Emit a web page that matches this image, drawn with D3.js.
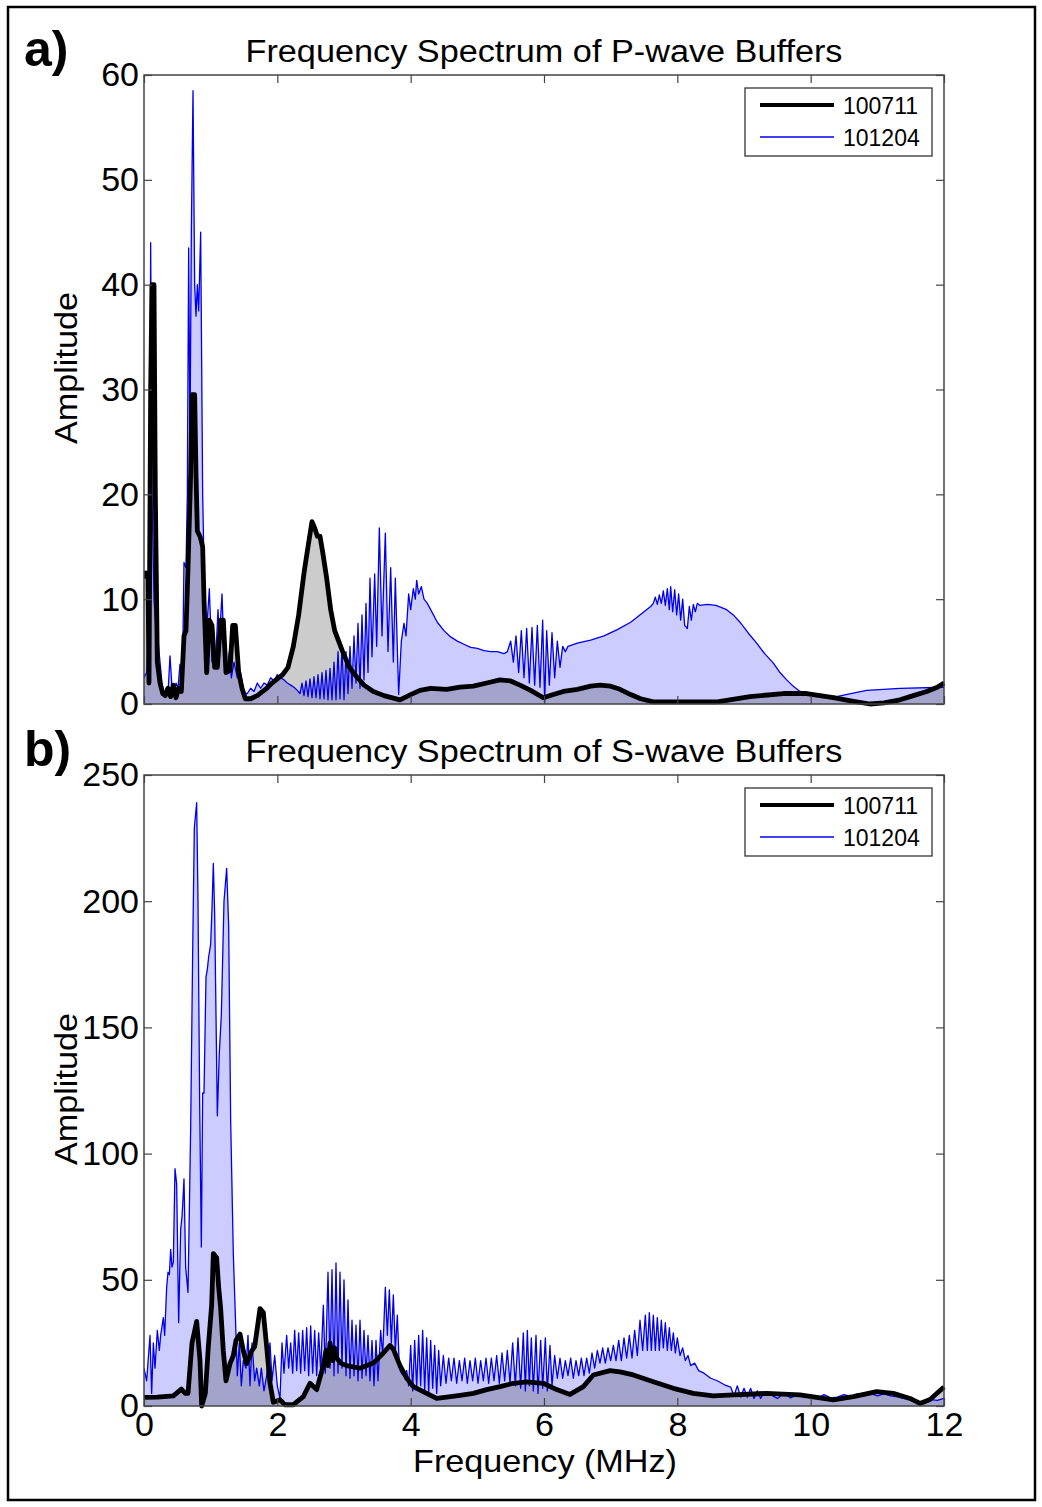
<!DOCTYPE html>
<html><head><meta charset="utf-8">
<script src="https://cdn.jsdelivr.net/npm/d3@7"></script>
<style>body{margin:0;background:#fff} text{font-family:"Liberation Sans",Arial,sans-serif;fill:#000}</style>
</head><body><svg id="c" width="1042" height="1507"></svg>
<script>
const xTicks=[0,2,4,6,8,10,12];
const pTicks=[0,10,20,30,40,50,60];
const sTicks=[0,50,100,150,200,250];
const seriesNames=["100711","101204"];
const titles=["Frequency Spectrum of P-wave Buffers","Frequency Spectrum of S-wave Buffers"];

// P-wave, 100711 (black)
const pBlack=[[0,12],[0.03,12.5],[0.06,12],[0.075,2],[0.1,30],[0.12,40],[0.15,40],[0.17,20],[0.2,4],[0.24,2],[0.28,1],[0.32,0.8],[0.36,1.5],[0.4,0.7],[0.44,1.8],[0.48,0.6],[0.52,1.5],[0.56,1.2],[0.6,6.5],[0.63,7],[0.66,13],[0.7,22],[0.72,29.5],[0.76,29.5],[0.78,22],[0.8,16.5],[0.84,16],[0.88,15],[0.9,10],[0.94,3],[0.98,8],[1.02,7.5],[1.06,3.5],[1.1,3.5],[1.15,8],[1.19,8],[1.23,3],[1.29,3.2],[1.33,7.5],[1.37,7.5],[1.42,3],[1.47,1.5],[1.52,0.5],[1.6,0.5],[1.7,0.8],[1.78,1.2],[1.84,1.5],[1.92,2],[2,2.4],[2.08,2.8],[2.16,3.5],[2.24,5.5],[2.32,8.5],[2.4,12.5],[2.46,15],[2.52,17.4],[2.56,16.8],[2.6,16],[2.64,16],[2.68,14.5],[2.74,12],[2.8,9],[2.86,7],[2.92,6],[2.98,5],[3.08,3.5],[3.19,2.6],[3.3,1.8],[3.44,1.2],[3.6,0.8],[3.84,0.4],[4,0.9],[4.14,1.3],[4.3,1.5],[4.54,1.4],[4.74,1.6],[4.94,1.7],[5.14,2],[5.34,2.3],[5.5,2.2],[5.64,1.8],[5.8,1.3],[5.99,0.6],[6.14,0.9],[6.29,1.2],[6.5,1.4],[6.7,1.7],[6.84,1.8],[7,1.7],[7.14,1.4],[7.3,0.9],[7.45,0.5],[7.64,0.2],[8,0.2],[8.6,0.2],[9.09,0.7],[9.59,1],[9.94,1],[10.34,0.6],[10.6,0.3],[10.89,0],[11.1,0.1],[11.34,0.4],[11.54,0.8],[11.74,1.2],[11.9,1.6],[12,2]];

// P-wave, 101204 (blue)
const pBlue=[[0,2.5],[0.04,3],[0.08,10],[0.1,44],[0.12,20],[0.15,10],[0.18,7],[0.21,6],[0.24,4],[0.27,2],[0.3,1],[0.33,1.5],[0.36,1],[0.39,4.6],[0.42,1.5],[0.45,1],[0.48,2],[0.51,1.5],[0.54,3.8],[0.56,2],[0.58,4],[0.6,13.5],[0.63,13],[0.65,20],[0.67,43.5],[0.69,25],[0.71,45],[0.735,58.5],[0.76,40],[0.78,37],[0.8,40],[0.82,37.5],[0.85,45],[0.88,20],[0.91,10],[0.94,7],[0.98,11],[1.02,4],[1.07,3.5],[1.11,9],[1.13,6],[1.17,10.5],[1.2,5],[1.24,3],[1.28,5],[1.31,2.5],[1.35,4],[1.4,2.5],[1.45,3],[1.5,1],[1.55,1],[1.6,1.5],[1.65,1.2],[1.7,2],[1.75,1.5],[1.8,2],[1.85,1.8],[1.9,2.5],[1.95,2.2],[2,2.8],[2.05,2.5],[2.1,2.3],[2.15,2],[2.2,1.8],[2.25,1.6],[2.3,1.3],[2.34,1],[2.37,2],[2.4,0.8],[2.43,2.2],[2.46,0.7],[2.49,2.4],[2.52,0.6],[2.55,2.6],[2.58,0.6],[2.61,2.8],[2.64,0.5],[2.67,3],[2.7,0.5],[2.73,3.2],[2.76,0.4],[2.79,3.4],[2.82,0.4],[2.85,4],[2.88,0.4],[2.91,5],[2.94,0.5],[2.97,5.4],[3,0.4],[3.03,5],[3.06,1],[3.09,5.5],[3.12,1.5],[3.15,6.5],[3.18,2],[3.21,7.7],[3.24,1.5],[3.27,8.5],[3.3,2.3],[3.33,9.6],[3.36,3],[3.39,12],[3.42,4.5],[3.46,12.4],[3.49,5.5],[3.53,16.8],[3.57,6.5],[3.62,16.3],[3.66,5],[3.7,13],[3.74,4],[3.77,12],[3.82,0.9],[3.86,6],[3.9,7.7],[3.93,6.5],[3.97,10.5],[4,9],[4.04,11],[4.07,10],[4.09,11.8],[4.12,10.5],[4.16,11.2],[4.2,10],[4.25,9.6],[4.3,9],[4.4,7.8],[4.5,7],[4.6,6.4],[4.7,6],[4.8,5.7],[4.9,5.4],[5,5.3],[5.1,5.1],[5.2,5],[5.3,5],[5.4,4.8],[5.45,5],[5.5,6],[5.54,4],[5.58,6.5],[5.62,3],[5.66,7],[5.7,2.5],[5.74,7.2],[5.78,2],[5.82,7.3],[5.86,1.8],[5.9,7.5],[5.94,1.6],[5.98,8],[6.01,0.2],[6.04,7],[6.08,1.8],[6.12,6.8],[6.16,2.5],[6.2,6],[6.24,3.5],[6.28,5.5],[6.32,5],[6.36,5.5],[6.5,5.8],[6.7,6.1],[6.9,6.5],[7.1,7.1],[7.3,7.8],[7.5,8.8],[7.6,9.3],[7.64,9.6],[7.67,10.2],[7.7,9.5],[7.73,10.4],[7.76,9.6],[7.79,10.8],[7.82,9.4],[7.85,11],[7.88,9],[7.9,11.2],[7.93,8.8],[7.96,10.9],[7.99,8.5],[8.02,10.5],[8.05,8],[8.08,10],[8.11,7.5],[8.15,7.2],[8.18,9.3],[8.21,8],[8.24,9.5],[8.27,8.8],[8.3,9.6],[8.34,9.4],[8.45,9.5],[8.58,9.4],[8.74,9],[8.84,8.5],[8.94,7.8],[9.06,6.8],[9.19,5.8],[9.31,4.8],[9.44,3.9],[9.54,3],[9.64,2.3],[9.74,1.7],[9.84,1.2],[10.09,0.9],[10.39,0.7],[10.6,1],[10.84,1.3],[11.34,1.5],[12,1.6]];

// S-wave, 100711 (black)
const sBlack=[[0,3.4],[0.2,3.5],[0.44,4],[0.56,6.7],[0.62,5],[0.66,5],[0.72,25],[0.79,33.5],[0.84,18],[0.865,0],[0.92,5],[0.965,23.5],[1.015,40],[1.04,60.4],[1.09,58.7],[1.12,47],[1.15,38.6],[1.19,21.8],[1.23,10],[1.29,16.8],[1.34,20],[1.38,26],[1.44,28.5],[1.49,21.8],[1.54,16.8],[1.615,21.8],[1.66,23.5],[1.74,38.6],[1.79,37],[1.84,23.5],[1.89,9],[1.94,1.5],[2.04,2.5],[2.11,0.5],[2.24,0.5],[2.39,3.7],[2.49,9],[2.59,6.5],[2.69,16],[2.73,22],[2.76,16],[2.79,25],[2.83,18],[2.86,23],[2.89,19],[2.95,17],[3.04,16],[3.24,15],[3.44,17],[3.59,21],[3.69,24],[3.74,22.5],[3.84,16],[3.94,11],[4.04,7.7],[4.24,5],[4.39,3],[4.54,3.5],[4.74,4.2],[4.94,5],[5.14,6.5],[5.34,7.7],[5.54,9],[5.74,9.6],[5.99,9],[6.19,6.5],[6.39,4.6],[6.59,7.7],[6.74,12.3],[6.99,14],[7.14,13.5],[7.34,12.3],[7.64,9.6],[7.94,7],[8.24,5],[8.54,4],[8.84,4.4],[9.34,5],[9.84,4.4],[10.34,2.4],[10.64,3.7],[10.99,5.7],[11.24,5],[11.49,3],[11.64,1],[11.79,2.6],[12,7.5]];

// S-wave, 101204 (blue)
const sBlue=[[0,15],[0.04,10],[0.09,28],[0.115,5],[0.14,25],[0.165,15],[0.2,30],[0.23,22],[0.25,28],[0.29,35],[0.31,28],[0.34,47],[0.36,53],[0.38,52],[0.4,62],[0.42,55],[0.44,57],[0.465,94],[0.49,88],[0.52,33],[0.55,70],[0.57,75],[0.585,82],[0.6,90],[0.625,55],[0.66,45],[0.7,110],[0.73,180],[0.755,229],[0.79,239],[0.81,200],[0.835,120],[0.86,63],[0.88,124],[0.9,124],[0.93,170],[0.95,173],[0.97,178],[1,183],[1.02,197],[1.04,215],[1.06,195],[1.1,115],[1.13,140],[1.16,155],[1.2,200],[1.24,213],[1.27,190],[1.3,113],[1.34,60],[1.38,28],[1.4,12],[1.43,25],[1.46,8],[1.49,18],[1.53,15],[1.56,28],[1.59,8],[1.62,25],[1.66,10],[1.69,15],[1.73,8],[1.76,15],[1.8,6],[1.84,12],[1.89,25],[1.92,10],[1.96,20],[2,8],[2.04,3],[2.07,25],[2.1,13],[2.14,28],[2.17,15],[2.2,25],[2.23,13],[2.26,30],[2.29,14],[2.32,29],[2.35,13],[2.38,30],[2.41,14],[2.44,31],[2.47,12],[2.5,31.7],[2.53,13],[2.56,30],[2.59,12],[2.62,29],[2.65,14],[2.69,40],[2.72,13],[2.76,53],[2.79,15],[2.82,54],[2.85,12],[2.88,56.7],[2.91,13],[2.94,53],[2.97,15],[3,50],[3.03,12],[3.06,42],[3.09,11],[3.12,34],[3.15,12],[3.18,32],[3.21,10],[3.24,34],[3.27,11],[3.3,30],[3.33,12],[3.36,28],[3.39,10],[3.42,26],[3.45,8],[3.48,26],[3.51,10],[3.55,30],[3.58,20],[3.62,47],[3.65,28],[3.68,46],[3.71,25],[3.74,44],[3.77,22],[3.8,36],[3.83,15],[3.86,13],[3.9,12],[3.94,14],[3.97,8],[4,24],[4.03,6],[4.06,26],[4.09,7],[4.12,28],[4.15,8],[4.18,30],[4.21,6],[4.24,27],[4.27,5],[4.3,26],[4.33,7],[4.36,24],[4.39,5],[4.42,22],[4.45,8],[4.49,20],[4.53,9],[4.57,19],[4.61,10],[4.65,19],[4.69,9],[4.73,18],[4.77,10],[4.81,19],[4.85,9],[4.89,18],[4.93,10],[4.97,19],[5.01,9],[5.05,18],[5.09,10],[5.13,19],[5.17,9],[5.21,19],[5.25,10],[5.29,20],[5.33,9],[5.37,21],[5.41,10],[5.45,22],[5.49,9],[5.53,25],[5.57,8],[5.61,27],[5.65,7],[5.69,29],[5.72,6],[5.75,30],[5.78,8],[5.81,27],[5.84,6],[5.88,28],[5.91,5],[5.95,26],[5.98,7],[6.02,27],[6.05,6],[6.09,24],[6.12,8],[6.16,20],[6.2,11],[6.24,19],[6.28,11],[6.32,18],[6.36,12],[6.4,19],[6.44,11],[6.48,18],[6.52,12],[6.56,19],[6.6,12],[6.64,19],[6.68,13],[6.72,21],[6.76,15],[6.8,22],[6.84,17],[6.88,23],[6.92,17],[6.96,23],[7,18],[7.04,24],[7.08,18],[7.12,26],[7.16,18],[7.2,27],[7.24,19],[7.28,28],[7.32,19],[7.36,30],[7.4,20],[7.44,34],[7.48,22],[7.52,36],[7.55,22],[7.58,37],[7.61,22],[7.64,36],[7.67,22],[7.7,35],[7.73,22],[7.76,34],[7.79,23],[7.82,33],[7.85,22],[7.88,31],[7.91,22],[7.94,29],[7.97,21],[8,27],[8.04,20],[8.08,23],[8.12,18],[8.16,20],[8.2,16],[8.26,17],[8.32,14],[8.4,13],[8.5,11],[8.6,10],[8.7,8.5],[8.8,7.5],[8.85,4],[8.9,8],[8.95,3.5],[9,7],[9.05,3.5],[9.1,7],[9.15,3],[9.2,6],[9.25,3],[9.3,5.5],[9.4,4.5],[9.5,3],[9.6,5],[9.7,3.2],[9.8,4.8],[9.9,3.5],[10,4.2],[10.1,3],[10.2,4.5],[10.3,3.2],[10.4,3.5],[10.5,4.5],[10.6,3.8],[10.7,4.8],[10.8,4],[10.9,5],[11,4],[11.1,4.8],[11.2,4],[11.3,3.6],[11.4,3],[11.5,2.5],[11.6,1.8],[11.7,1.5],[11.8,2.5],[11.9,2.2],[12,3]];

const svg=d3.select("#c");
svg.append("rect").attr("x",8).attr("y",7).attr("width",1027).attr("height",1493)
  .attr("fill","none").attr("stroke","#000").attr("stroke-width",2.5);

function panel(cfg){
  const {top,bottom,yMax,yTicks,black,blue,title,letter,legendTop,idx,ylabY}=cfg;
  const L=144,R=944;
  const x=d3.scaleLinear().domain([0,12]).range([L,R]);
  const y=d3.scaleLinear().domain([0,yMax]).range([bottom,top]);
  const g=svg.append("g");
  const clipId="clip"+idx;
  g.append("clipPath").attr("id",clipId).append("rect")
    .attr("x",L).attr("y",top).attr("width",R-L+3).attr("height",bottom-top+3);
  const area=d3.area().x(d=>x(d[0])).y0(y(0)).y1(d=>y(d[1]));
  const line=d3.line().x(d=>x(d[0])).y(d=>y(d[1]));
  const plot=g.append("g").attr("clip-path",`url(#${clipId})`);
  plot.append("path").datum(blue).attr("d",area).attr("fill","#0000ff").attr("fill-opacity",0.2);
  plot.append("path").datum(black).attr("d",area).attr("fill","#000").attr("fill-opacity",0.2);
  plot.append("path").datum(blue).attr("d",line).attr("fill","none").attr("stroke","#0000ee").attr("stroke-width",1.3).attr("stroke-linejoin","round");
  plot.append("path").datum(black).attr("d",line).attr("fill","none").attr("stroke","#000").attr("stroke-width",4.8).attr("stroke-linejoin","round");

  const axCol="#444";
  const styleAxis=sel=>{sel.select(".domain").remove();sel.selectAll(".tick line").attr("stroke",axCol).attr("stroke-width",1.2);
    sel.selectAll("text").style("font-size","34px").attr("fill","#000");};
  g.append("g").attr("transform",`translate(${L},0)`)
    .call(d3.axisLeft(y).tickValues(yTicks).tickSize(-8).tickPadding(5).tickFormat(d3.format("d"))).call(styleAxis);
  g.append("g").attr("transform",`translate(${R},0)`)
    .call(d3.axisRight(y).tickValues(yTicks).tickSize(-8).tickFormat("")).call(styleAxis);
  g.append("g").attr("transform",`translate(0,${top})`)
    .call(d3.axisTop(x).tickValues(xTicks).tickSize(-8).tickFormat("")).call(styleAxis);
  g.append("g").attr("transform",`translate(0,${bottom})`)
    .call(d3.axisBottom(x).tickValues(xTicks).tickSize(-8).tickPadding(6).tickFormat(cfg.showX?d3.format("d"):"")).call(styleAxis);
  g.append("rect").attr("x",L).attr("y",top).attr("width",R-L).attr("height",bottom-top)
    .attr("fill","none").attr("stroke",axCol).attr("stroke-width",1.5);

  g.append("text").attr("x",544).attr("y",top-13).attr("text-anchor","middle").style("font-size","31px")
    .attr("textLength",597).attr("lengthAdjust","spacingAndGlyphs").text(title);
  g.append("text").attr("x",24).attr("y",top-9).style("font-size","50px").style("font-weight","bold").text(letter);
  g.append("text").attr("transform",`translate(77,${ylabY}) rotate(-90)`).attr("text-anchor","middle").style("font-size","31px")
    .attr("textLength",152).attr("lengthAdjust","spacingAndGlyphs").text("Amplitude");

  // legend
  const lg=g.append("g");
  lg.append("rect").attr("x",745).attr("y",legendTop).attr("width",187).attr("height",68)
    .attr("fill","#fff").attr("stroke","#333").attr("stroke-width",1.3);
  lg.append("line").attr("x1",760).attr("x2",834).attr("y1",legendTop+17).attr("y2",legendTop+17).attr("stroke","#000").attr("stroke-width",4);
  lg.append("line").attr("x1",760).attr("x2",834).attr("y1",legendTop+49).attr("y2",legendTop+49).attr("stroke","#0000ee").attr("stroke-width",1.5);
  lg.append("text").attr("x",843).attr("y",legendTop+26).style("font-size","23px").text(seriesNames[0]);
  lg.append("text").attr("x",843).attr("y",legendTop+58).style("font-size","23px").text(seriesNames[1]);
}

panel({top:75,bottom:704,yMax:60,yTicks:pTicks,black:pBlack,blue:pBlue,title:titles[0],letter:"a)",legendTop:88,idx:0,showX:false,ylabY:368});
panel({top:775,bottom:1406,yMax:250,yTicks:sTicks,black:sBlack,blue:sBlue,title:titles[1],letter:"b)",legendTop:788,idx:1,showX:true,ylabY:1089});

svg.append("text").attr("x",545).attr("y",1472).attr("text-anchor","middle").style("font-size","32px")
  .attr("textLength",264).attr("lengthAdjust","spacingAndGlyphs").text("Frequency (MHz)");
</script></body></html>
